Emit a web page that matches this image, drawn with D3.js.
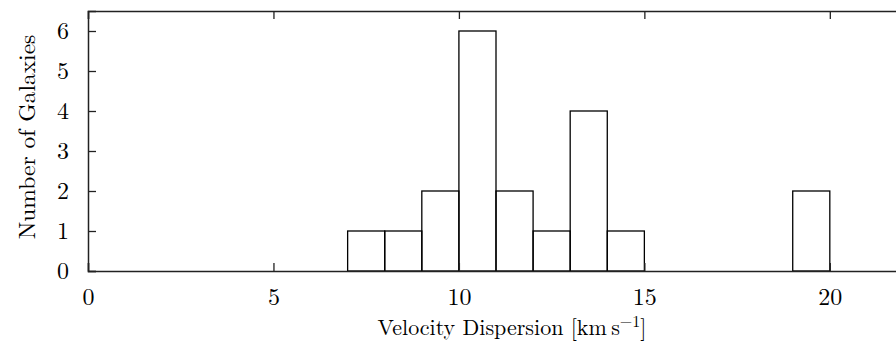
<!DOCTYPE html>
<html>
<head>
<meta charset="utf-8">
<script src="https://cdn.jsdelivr.net/npm/d3@7"></script>
<style>
  body { margin: 0; background: #fff; }
  text { fill: #000; }
</style>
</head>
<body>
<svg width="896" height="356"></svg>
<script>
// histogram bins (km/s) and counts
const binStarts = [7, 8, 9, 10, 11, 12, 13, 14, 19]
const counts = [1, 1, 2, 6, 2, 1, 4, 1, 2]
const binWidth = 1
const xTicks = [0, 5, 10, 15, 20]
const yTicks = [0, 1, 2, 3, 4, 5, 6]

const serif = '"Latin Modern Roman", "Times New Roman", "Liberation Serif", serif'

const svg = d3.select("svg")
const margin = {top: 11, left: 88, bottom: 271, right: 904}

const x = d3.scaleLinear().domain([0, 22]).range([margin.left, margin.right])
const y = d3.scaleLinear().domain([0, 6.5]).range([margin.bottom, margin.top])

const bars = binStarts.map((s, i) => ({x0: s, x1: s + binWidth, n: counts[i]}))

svg.append("g").selectAll("rect")
  .data(bars)
  .join("rect")
  .attr("x", d => x(d.x0))
  .attr("y", d => y(d.n))
  .attr("width", d => x(d.x1) - x(d.x0))
  .attr("height", d => y(0) - y(d.n))
  .attr("fill", "none")
  .attr("stroke", "#000")
  .attr("stroke-width", 1.3)

// axes with inward ticks
const tickLen = 8
const tickFont = 24
const fmt = d3.format("d")

const xAxis = g => g.attr("transform", `translate(0,${margin.bottom})`)
  .call(d3.axisBottom(x).tickValues(xTicks).tickFormat(fmt).tickSize(-tickLen).tickPadding(17))
const xTop = g => g.attr("transform", `translate(0,${margin.top})`)
  .call(d3.axisTop(x).tickValues(xTicks).tickSize(-tickLen).tickFormat(""))
const yAxis = g => g.attr("transform", `translate(${margin.left},0)`)
  .call(d3.axisLeft(y).tickValues(yTicks).tickFormat(fmt).tickSize(-tickLen).tickPadding(19))
const yRight = g => g.attr("transform", `translate(${margin.right},0)`)
  .call(d3.axisRight(y).tickValues(yTicks).tickSize(-tickLen).tickFormat(""))

;[xAxis, xTop, yAxis, yRight].forEach(a => {
  svg.append("g").call(a)
    .attr("font-family", serif)
    .call(g => g.select(".domain").attr("stroke", "#222").attr("stroke-width", 1.5))
    .call(g => g.selectAll(".tick line").attr("stroke", "#222").attr("stroke-width", 1.3))
    .call(g => g.selectAll(".tick text").style("font-size", tickFont + "px")
      .style("font-family", serif).attr("fill", "#000"))
})

// axis labels
const xl = svg.append("text")
  .attr("x", 512)
  .attr("y", 335)
  .attr("text-anchor", "middle")
  .style("font-family", serif)
  .style("font-size", "22px")
xl.append("tspan").text("Velocity Dispersion [km\u2009s")
xl.append("tspan").attr("dy", -8).style("font-size", "16px").text("\u22121")
xl.append("tspan").attr("dy", 8).text("]")

svg.append("text")
  .attr("transform", "translate(35,137) rotate(-90)")
  .attr("text-anchor", "middle")
  .style("font-family", serif)
  .style("font-size", "23.5px")
  .text("Number of Galaxies")
</script>
</body>
</html>
